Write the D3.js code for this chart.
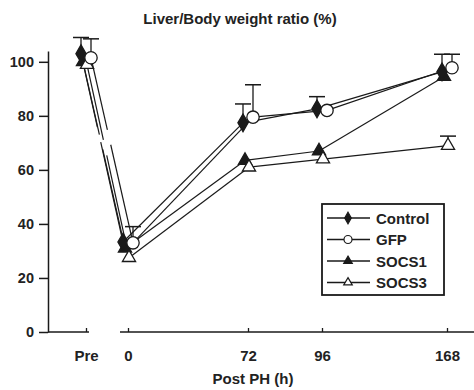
<!DOCTYPE html>
<html>
<head>
<meta charset="utf-8">
<script src="https://cdn.jsdelivr.net/npm/d3@7"></script>
<style>
  html, body { margin: 0; padding: 0; background: #ffffff; }
  svg text { font-family: "Liberation Sans", Arial, Helvetica, sans-serif; font-weight: bold; fill: #222; }
</style>
</head>
<body>
<svg id="chart" width="474" height="390"></svg>
<script>
// ---- data ----
const xCats  = ["Pre", "0", "72", "96", "168"];
const xHours = [-26, 0, 72, 96, 168];          // "Pre" placed before the axis break
const yTicks = [0, 20, 40, 60, 80, 100];

const seriesNames = ["Control", "GFP", "SOCS1", "SOCS3"];
const control = [103, 33.3, 77.4, 82.6, 96.3];
const gfp     = [101.5, 33, 79.5, 82, 97.8];
const socs1   = [100, 31, 63.5, 67, 94.5];
const socs3   = [99, 27.5, 61, 64, 69];

const controlErr = [6, 0, 7, 4.5, 6.5];
const gfpErr     = [7, 6, 12, 0, 5];
const socs1Err   = [0, 0, 0, 0, 0];
const socs3Err   = [0, 0, 0, 0, 3.5];

const titleText = "Liver/Body weight ratio (%)";
const xTitle = "Post PH (h)";

// ---- drawing ----
const svg = d3.select("#chart");
const ink = "#1a1a1a";

const x = d3.scaleLinear().domain(xHours).range([86, 128, 248, 322, 447]);
const y = d3.scaleLinear().domain([0, 104]).range([332, 51]);

const series = [
  { name: seriesNames[0], vals: control, err: controlErr, sym: d3.symbolDiamond,  size: 90,  fill: ink,    dx: -5 },
  { name: seriesNames[1], vals: gfp,     err: gfpErr,     sym: d3.symbolCircle,   size: 120, fill: "#fff", dx: 5 },
  { name: seriesNames[2], vals: socs1,   err: socs1Err,   sym: d3.symbolTriangle, size: 75,  fill: ink,    dx: -3 },
  { name: seriesNames[3], vals: socs3,   err: socs3Err,   sym: d3.symbolTriangle, size: 75,  fill: "#fff", dx: 1 }
];

// title
svg.append("text").attr("x", 240).attr("y", 24).attr("text-anchor", "middle")
  .style("font-size", "15px").text(titleText);

// y axis
const yAxis = d3.axisLeft(y).tickValues(yTicks).tickSize(9).tickSizeOuter(0).tickPadding(5);
const gy = svg.append("g").attr("transform", "translate(48,0)").call(yAxis);
gy.selectAll("path, line").attr("stroke", ink).attr("stroke-width", 1.5);
gy.selectAll("text").style("font-size", "14.5px").style("font-family", null).attr("fill", "#222");

// x axis (broken)
const xAxis = d3.axisBottom(x).tickValues(xHours)
  .tickFormat((d, i) => xCats[i]).tickSize(-4).tickSizeOuter(0).tickPadding(18);
const gx = svg.append("g").attr("transform", `translate(0,${y(0)})`).call(xAxis);
gx.select(".domain").remove();
gx.selectAll("line").attr("stroke", ink).attr("stroke-width", 1.3);
gx.selectAll("text").style("font-size", "15px").style("font-family", null).attr("fill", "#222");
gx.append("line").attr("x1", 48).attr("x2", x(xHours[0]) + 3).attr("y1", 0).attr("y2", 0)
  .attr("stroke", ink).attr("stroke-width", 1.5);
gx.append("line").attr("x1", x(0) - 8).attr("x2", 474).attr("y1", 0).attr("y2", 0)
  .attr("stroke", ink).attr("stroke-width", 1.5);

svg.append("text").attr("x", 253).attr("y", 384).attr("text-anchor", "middle")
  .style("font-size", "15px").text(xTitle);

// error bars (upper only)
const capHalf = 8;
series.forEach(s => {
  const g = svg.append("g");
  s.vals.forEach((v, i) => {
    const e = s.err[i];
    if (!e) return;
    const cx = x(xHours[i]) + s.dx;
    g.append("line").attr("x1", cx).attr("x2", cx).attr("y1", y(v)).attr("y2", y(v + e))
      .attr("stroke", ink).attr("stroke-width", 1.3);
    g.append("line").attr("x1", cx - capHalf).attr("x2", cx + capHalf).attr("y1", y(v + e)).attr("y2", y(v + e))
      .attr("stroke", ink).attr("stroke-width", 1.5);
  });
});

// lines (with break on the Pre -> 0 segment)
const gapStart = 0.39, gapEnd = 0.47;
series.forEach(s => {
  const pts = s.vals.map((v, i) => [x(xHours[i]) + s.dx, y(v)]);
  const g = svg.append("g");
  for (let i = 0; i < pts.length - 1; i++) {
    const a = pts[i], b = pts[i + 1];
    const lerp = t => [a[0] + (b[0] - a[0]) * t, a[1] + (b[1] - a[1]) * t];
    const pieces = i === 0 ? [[a, lerp(gapStart)], [lerp(gapEnd), b]] : [[a, b]];
    pieces.forEach(p => {
      g.append("line").attr("x1", p[0][0]).attr("y1", p[0][1]).attr("x2", p[1][0]).attr("y2", p[1][1])
        .attr("stroke", ink).attr("stroke-width", 1.2);
    });
  }
});

// markers (draw open ones last so they sit visibly on top)
const order = [series[2], series[0], series[3], series[1]];
order.forEach(s => {
  svg.append("g").selectAll("path").data(s.vals).join("path")
    .attr("d", d3.symbol().type(s.sym).size(s.size))
    .attr("transform", (v, i) => `translate(${x(xHours[i]) + s.dx},${y(v)})`)
    .attr("fill", s.fill).attr("stroke", ink).attr("stroke-width", 1.3);
});

// legend
const lg = svg.append("g").attr("transform", "translate(322,204)");
lg.append("rect").attr("x", 0).attr("y", 0).attr("width", 122).attr("height", 91)
  .attr("fill", "#fff").attr("stroke", ink).attr("stroke-width", 1.8);
series.forEach((s, i) => {
  const row = lg.append("g").attr("transform", `translate(0,${14 + i * 21.5})`);
  row.append("line").attr("x1", 5).attr("x2", 48).attr("y1", 0).attr("y2", 0)
    .attr("stroke", ink).attr("stroke-width", 1.5);
  row.append("path").attr("d", d3.symbol().type(s.sym).size(s.size * 0.42))
    .attr("transform", "translate(26,0)")
    .attr("fill", s.fill).attr("stroke", ink).attr("stroke-width", 1.2);
  row.append("text").attr("x", 54).attr("y", 5.5).style("font-size", "15px").text(s.name);
});
</script>
</body>
</html>
